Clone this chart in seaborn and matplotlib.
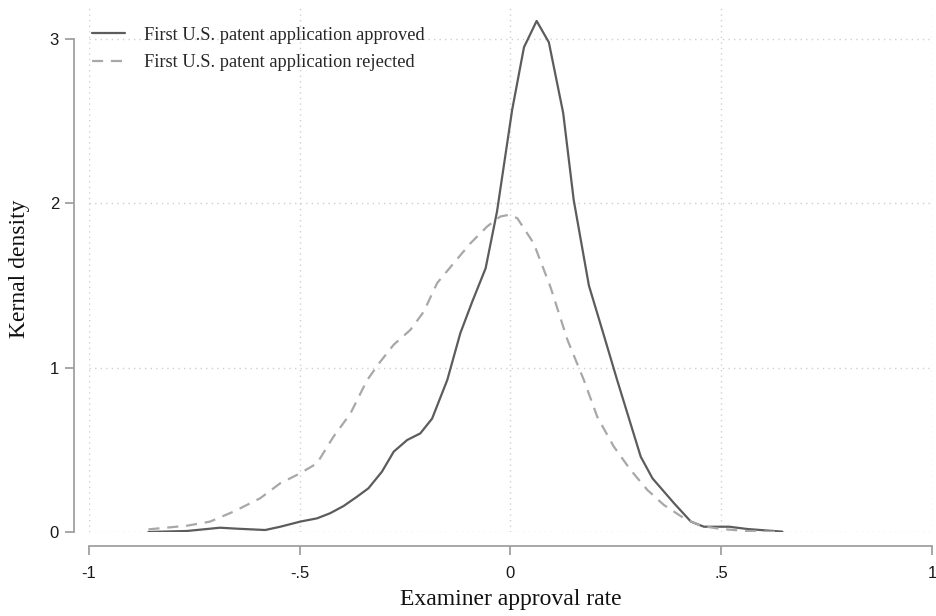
import pandas as pd
import matplotlib.pyplot as plt
import seaborn as sns

# approved curve
approved_x = [-0.859, -0.768, -0.689, -0.649, -0.582, -0.546, -0.499, -0.459, -0.428, -0.396,
              -0.364, -0.337, -0.305, -0.277, -0.245, -0.214, -0.186, -0.150, -0.119, -0.091,
              -0.059, -0.032, 0.004, 0.032, 0.062, 0.091, 0.125, 0.150, 0.186, 0.220,
              0.253, 0.309, 0.337, 0.388, 0.428, 0.459, 0.519, 0.562, 0.645]
approved_y = [0.0, 0.006, 0.026, 0.02, 0.012, 0.032, 0.063, 0.083, 0.114, 0.158,
              0.215, 0.266, 0.367, 0.489, 0.56, 0.60, 0.69, 0.925, 1.21, 1.40,
              1.605, 1.95, 2.57, 2.95, 3.11, 2.98, 2.55, 2.02, 1.50, 1.21,
              0.925, 0.458, 0.326, 0.175, 0.063, 0.032, 0.032, 0.018, 0.002]

# rejected curve
rejected_x = [-0.859, -0.768, -0.713, -0.657, -0.594, -0.546, -0.499, -0.459, -0.420, -0.380,
              -0.340, -0.309, -0.277, -0.2375, -0.206, -0.174, -0.135, -0.095, -0.055, -0.024,
              -0.004, 0.016, 0.055, 0.095, 0.135, 0.174, 0.206, 0.245, 0.285, 0.325,
              0.364, 0.412, 0.451, 0.499, 0.562, 0.641]
rejected_y = [0.016, 0.038, 0.063, 0.124, 0.205, 0.297, 0.357, 0.418, 0.58, 0.72,
              0.925, 1.036, 1.14, 1.23, 1.34, 1.515, 1.635, 1.757, 1.86, 1.92,
              1.93, 1.91, 1.757, 1.49, 1.17, 0.925, 0.70, 0.52, 0.377, 0.255,
              0.164, 0.083, 0.038, 0.018, 0.006, 0.0]

labels = ["First U.S. patent application approved", "First U.S. patent application rejected"]
x_ticks = [-1, -0.5, 0, 0.5, 1]
x_tick_labels = ["-1", "-.5", "0", ".5", "1"]
y_ticks = [0, 1, 2, 3]

sns.set_theme(style="white")
plt.rcParams["font.family"] = ["Liberation Serif", "DejaVu Serif"]

fig = plt.figure(figsize=(9.36, 6.16), dpi=100)
ax = fig.add_axes([0.0951, 0.1364, 0.9006, 0.8536])

df_a = pd.DataFrame({"x": approved_x, "y": approved_y})
df_r = pd.DataFrame({"x": rejected_x, "y": rejected_y})
sns.lineplot(data=df_a, x="x", y="y", ax=ax, color="#5c5c5c", lw=1.6, label=labels[0],
             estimator=None, sort=False)
sns.lineplot(data=df_r, x="x", y="y", ax=ax, color="#a8a8a8", lw=1.6, label=labels[1],
             estimator=None, sort=False, linestyle=(0, (5, 3.5)))

ax.set_xlim(-1, 1)
ax.set_ylim(0, 3.2)
ax.set_xticks(x_ticks)
ax.set_xticklabels(x_tick_labels)
ax.set_yticks(y_ticks)
ax.set_yticklabels([str(v) for v in y_ticks])

ax.grid(True, linestyle=(0, (1, 3)), color="#cfcfcf", lw=1.0)
for s in ["top", "right"]:
    ax.spines[s].set_visible(False)
ax.spines["left"].set_position(("outward", 10.8))
ax.spines["bottom"].set_position(("outward", 10.1))
ax.spines["left"].set_bounds(0, 3)
ax.spines["bottom"].set_bounds(-1, 1)
for s in ["left", "bottom"]:
    ax.spines[s].set_color("#a0a0a0")
    ax.spines[s].set_linewidth(1.3)
ax.tick_params(axis="both", which="major", length=6.5, width=1.3, color="#a0a0a0",
               labelcolor="#1a1a1a", bottom=True, left=True, labelsize=12,
               labelfontfamily="Liberation Sans")
ax.tick_params(axis="x", pad=8)
ax.tick_params(axis="y", pad=4.3)

ax.set_xlabel("Examiner approval rate", fontsize=17, color="#111111", labelpad=6)
ax.set_ylabel("Kernal density", fontsize=17, color="#111111", labelpad=14)

ax.legend(loc="upper left", bbox_to_anchor=(0.0036, 0.961), frameon=False, fontsize=13.2,
          handlelength=1.8, handletextpad=1.04, labelspacing=0.58, borderpad=0, borderaxespad=0)

fig.savefig("out.png", dpi=100)
